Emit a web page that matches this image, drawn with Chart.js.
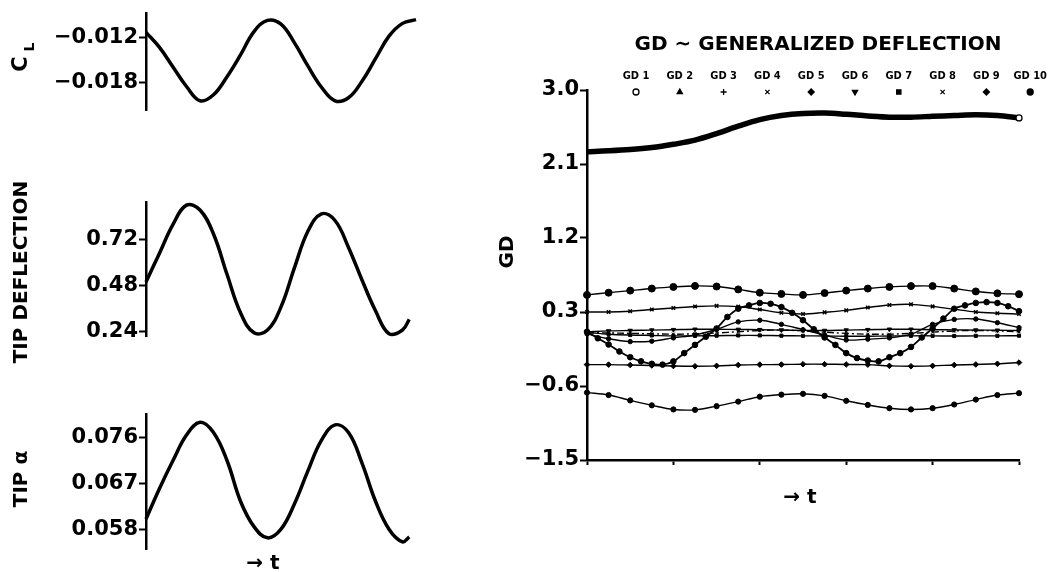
<!DOCTYPE html>
<html>
<head>
<meta charset="utf-8">
<title>GD ~ Generalized deflection</title>
<script src="https://cdn.jsdelivr.net/npm/chart.js@4.4.1/dist/chart.umd.min.js"></script>
<style>
  html, body { margin: 0; padding: 0; background: #fff; }
  #wrap { position: relative; width: 1055px; height: 572px; overflow: hidden; }
  canvas { position: absolute; }
</style>
</head>
<body>
<div id="wrap">
  <canvas id="clChart" width="440" height="125" style="left:0;top:0"></canvas>
  <canvas id="tipChart" width="440" height="210" style="left:0;top:170px"></canvas>
  <canvas id="alphaChart" width="440" height="172" style="left:0;top:400px"></canvas>
  <canvas id="gdChart" width="565" height="572" style="left:490px;top:0"></canvas>
</div>
<script>
// Time (no labels on the plots, arbitrary units)
const tLeft = [0, 1, 2, 3, 4, 5, 6, 7, 8, 9, 10, 11, 12, 13, 14, 15, 16, 17, 18, 19, 20];
const tLeftShort = [0, 1, 2, 3, 4, 5, 6, 7, 8, 9, 10, 11, 12, 13, 14, 15, 16, 17, 18, 19, 19.5];

// Left column
const clValues = [-0.0113, -0.0133, -0.0159, -0.0185, -0.0204, -0.0196, -0.0172, -0.0143, -0.0112, -0.0097, -0.0102,
                  -0.0127, -0.0158, -0.0186, -0.0204, -0.0200, -0.0178, -0.0148, -0.0118, -0.0101, -0.0096];
const tipDeflection = [0.50, 0.65, 0.80, 0.90, 0.875, 0.75, 0.54, 0.34, 0.235, 0.25, 0.37,
                       0.575, 0.765, 0.855, 0.82, 0.68, 0.51, 0.35, 0.23, 0.25, 0.305];
const tipAlpha = [0.060, 0.066, 0.0715, 0.0765, 0.079, 0.0770, 0.0715, 0.0635, 0.0585, 0.0563, 0.058,
                  0.063, 0.0695, 0.0755, 0.0785, 0.0770, 0.0710, 0.0635, 0.058, 0.0555, 0.0565];

const clTicks = [-0.018, -0.012];
const tipDeflTicks = [0.24, 0.48, 0.72];
const tipAlphaTicks = [0.058, 0.067, 0.076];

// Right chart: generalized deflections
const tGD = [0, 1, 2, 3, 4, 5, 6, 7, 8, 9, 10, 11, 12, 13, 14, 15, 16, 17, 18, 19, 20];
const tGDDense = [0, 0.5, 1, 1.5, 2, 2.5, 3, 3.5, 4, 4.5, 5, 5.5, 6, 6.5, 7, 7.5, 8, 8.5, 9, 9.5, 10,
                  10.5, 11, 11.5, 12, 12.5, 13, 13.5, 14, 14.5, 15, 15.5, 16, 16.5, 17, 17.5, 18, 18.5, 19, 19.5, 20];
const gdLabels = ["GD 1", "GD 2", "GD 3", "GD 4", "GD 5", "GD 6", "GD 7", "GD 8", "GD 9", "GD 10"];

const gd1 = [2.25, 2.26, 2.275, 2.30, 2.34, 2.39, 2.47, 2.56, 2.64, 2.69, 2.715,
             2.72, 2.705, 2.685, 2.67, 2.67, 2.68, 2.69, 2.70, 2.69, 2.66];
const gd2 = [0.508, 0.535, 0.56, 0.585, 0.605, 0.617, 0.61, 0.575, 0.535, 0.52, 0.508,
             0.53, 0.56, 0.585, 0.605, 0.615, 0.615, 0.585, 0.55, 0.527, 0.517];
const gd3 = [0.30, 0.30, 0.31, 0.33, 0.348, 0.366, 0.375, 0.365, 0.33, 0.29, 0.276,
             0.296, 0.32, 0.355, 0.385, 0.393, 0.368, 0.333, 0.30, 0.285, 0.276];
const gd4 = [0.035, -0.025, -0.06, -0.055, -0.015, 0.02, 0.09, 0.18, 0.20, 0.15, 0.085,
             0.02, -0.04, -0.03, -0.015, 0.03, 0.15, 0.21, 0.215, 0.17, 0.11];
const gd5 = [0.06, -0.02, -0.095, -0.18, -0.25, -0.30, -0.33, -0.34, -0.30, -0.20, -0.10,
             0.0, 0.10, 0.24, 0.34, 0.38, 0.41, 0.40, 0.36, 0.29, 0.20,
             0.09, -0.01, -0.10, -0.20, -0.26, -0.29, -0.30, -0.25, -0.20, -0.125,
             -0.01, 0.10, 0.22, 0.34, 0.38, 0.41, 0.42, 0.41, 0.37, 0.31];
const gd6 = [0.06, 0.07, 0.075, 0.08, 0.085, 0.09, 0.09, 0.088, 0.085, 0.08, 0.077,
             0.075, 0.08, 0.085, 0.09, 0.09, 0.085, 0.082, 0.08, 0.078, 0.075];
const gd7 = [0.05, 0.03, 0.02, 0.015, 0.01, 0.01, 0.012, 0.015, 0.015, 0.012, 0.01,
             0.008, 0.005, 0.005, 0.008, 0.01, 0.01, 0.008, 0.01, 0.01, 0.012];
const gd8 = [0.05, 0.045, 0.04, 0.035, 0.03, 0.035, 0.045, 0.06, 0.075, 0.08, 0.07,
             0.055, 0.04, 0.03, 0.03, 0.04, 0.055, 0.07, 0.075, 0.07, 0.06];
const gd9 = [-0.34, -0.34, -0.345, -0.35, -0.357, -0.36, -0.355, -0.345, -0.34, -0.339, -0.335,
             -0.335, -0.338, -0.34, -0.355, -0.36, -0.355, -0.345, -0.338, -0.33, -0.315];
const gd10 = [-0.68, -0.71, -0.775, -0.835, -0.885, -0.89, -0.845, -0.79, -0.73, -0.705, -0.695,
              -0.72, -0.78, -0.83, -0.87, -0.885, -0.87, -0.825, -0.765, -0.71, -0.687];

const gdTicks = [-1.5, -0.6, 0.3, 1.2, 2.1, 3.0];
const gdTimeTicks = [0, 4, 8, 12, 16, 20];

const TICK_FONT = { family: "DejaVu Sans", weight: "bold", size: 21 };
const TITLE_FONT = "bold 20px 'DejaVu Sans'";

Chart.defaults.font.family = "DejaVu Sans";
Chart.defaults.color = "#000";

// (t, value) pairs for the linear x axis
function pairs(ts, vals) {
  return vals.map((v, i) => ({ x: ts[i], y: v }));
}

function fmtTick(v, digits) {
  return v.toFixed(digits).replace("-", "\u2212");
}

// Free text (axis titles, headings) drawn on the canvas
const textPlugin = {
  id: "texts",
  afterDraw(chart, args, opts) {
    const ctx = chart.ctx;
    (opts.items || []).forEach(item => {
      ctx.save();
      ctx.translate(item.x, item.y);
      if (item.rotate) ctx.rotate(item.rotate * Math.PI / 180);
      ctx.font = item.font || TITLE_FONT;
      ctx.fillStyle = "#000";
      ctx.textAlign = item.align || "center";
      ctx.textBaseline = "middle";
      ctx.fillText(item.text, 0, 0);
      ctx.restore();
    });
  }
};

// Legend: label above, marker below, all in one row
const markerLegend = {
  id: "markerLegend",
  afterDraw(chart, args, opts) {
    const ctx = chart.ctx;
    chart.data.datasets.forEach((ds, i) => {
      const x = opts.x0 + i * opts.step;
      ctx.save();
      ctx.font = opts.font;
      ctx.fillStyle = "#000";
      ctx.textAlign = "center";
      ctx.textBaseline = "middle";
      ctx.fillText(ds.label, x, opts.labelY);
      ctx.fillStyle = ds.legendFill || "#000";
      ctx.strokeStyle = "#000";
      ctx.lineWidth = 1.3;
      Chart.helpers.drawPoint(ctx, {
        pointStyle: ds.legendStyle,
        rotation: ds.legendRotation || 0,
        radius: 3,
        borderWidth: 1.3
      }, x, opts.markerY);
      ctx.restore();
    });
  }
};

function yAxis(min, max, ticks, digits, width) {
  return {
    min: min,
    max: max,
    afterFit: s => { s.width = width; },
    afterBuildTicks: s => { s.ticks = ticks.map(v => ({ value: v })); },
    border: { display: true, color: "#000", width: 2.5 },
    grid: { display: true, drawOnChartArea: false, drawTicks: true, tickLength: 7, tickWidth: 2, color: "#000" },
    ticks: { color: "#000", font: TICK_FONT, padding: 1, autoSkip: false, callback: v => fmtTick(v, digits) }
  };
}

// Left column: one small chart per quantity
function initLeftChart(id, ts, values, yMin, yMax, ticks, digits, pad, texts) {
  const ctx = document.getElementById(id).getContext("2d");
  return new Chart(ctx, {
    type: "line",
    data: {
      datasets: [{
        data: pairs(ts, values),
        borderColor: "#000",
        borderWidth: 3.5,
        pointRadius: 0,
        tension: 0.4,
        clip: false
      }]
    },
    options: {
      responsive: false,
      animation: false,
      devicePixelRatio: 1,
      layout: { padding: { left: 0, right: 24, top: pad.top, bottom: pad.bottom } },
      scales: {
        x: { type: "linear", display: false, min: 0, max: 20 },
        y: yAxis(yMin, yMax, ticks, digits, 146)
      },
      plugins: {
        legend: { display: false },
        tooltip: { enabled: false },
        texts: { items: texts }
      }
    },
    plugins: [textPlugin]
  });
}

function initGDChart() {
  const ctx = document.getElementById("gdChart").getContext("2d");
  const thin = { borderColor: "#000", backgroundColor: "#000", pointBorderColor: "#000", pointBackgroundColor: "#000",
                 borderWidth: 1.4, pointBorderWidth: 1, tension: 0.35, clip: false };
  const lastOnly = c => (c.dataIndex === gd1.length - 1 ? 3 : 0);
  const series = [
    { data: pairs(tGD, gd1), pointStyle: "circle", legendStyle: "circle", legendFill: "#fff", borderWidth: 5.5,
      pointRadius: lastOnly, pointBackgroundColor: "#fff", pointBorderWidth: 1.3 },
    { data: pairs(tGD, gd2), pointStyle: "circle", legendStyle: "triangle", pointRadius: 3.5 },
    { data: pairs(tGD, gd3), pointStyle: "crossRot", legendStyle: "cross", pointRadius: 2.5, pointBorderWidth: 1.5 },
    { data: pairs(tGD, gd4), pointStyle: "circle", legendStyle: "crossRot", pointRadius: 2.2 },
    { data: pairs(tGDDense, gd5), pointStyle: "circle", legendStyle: "rectRot", pointRadius: 2.8, borderWidth: 1.8 },
    { data: pairs(tGD, gd6), pointStyle: "triangle", pointRotation: 180, legendStyle: "triangle", legendRotation: 180, pointRadius: 2.5 },
    { data: pairs(tGD, gd7), pointStyle: "rect", legendStyle: "rect", pointRadius: 2.2 },
    { data: pairs(tGD, gd8), pointStyle: "crossRot", legendStyle: "crossRot", pointRadius: 2.2, borderDash: [7, 3, 2, 3] },
    { data: pairs(tGD, gd9), pointStyle: "rectRot", legendStyle: "rectRot", pointRadius: 2.8 },
    { data: pairs(tGD, gd10), pointStyle: "circle", legendStyle: "circle", pointRadius: 2.6 }
  ];

  return new Chart(ctx, {
    type: "line",
    data: {
      datasets: series.map((s, i) => Object.assign({}, thin, s, { label: gdLabels[i] }))
    },
    options: {
      responsive: false,
      animation: false,
      devicePixelRatio: 1,
      layout: { padding: { left: 0, right: 36, top: 90, bottom: 104 } },
      scales: {
        x: {
          type: "linear",
          min: 0,
          max: 20,
          afterFit: s => { s.height = 8; },
          afterBuildTicks: s => { s.ticks = gdTimeTicks.map(v => ({ value: v })); },
          border: { display: true, color: "#000", width: 2.5 },
          grid: { display: true, drawOnChartArea: false, drawTicks: true, tickLength: 5, tickWidth: 2, color: "#000" },
          ticks: { display: false }
        },
        y: yAxis(-1.5, 3.0, gdTicks, 1, 97)
      },
      plugins: {
        legend: { display: false },
        tooltip: { enabled: false },
        markerLegend: {
          x0: 146, step: 43.8, labelY: 76, markerY: 92,
          font: "bold 11px 'Liberation Sans Narrow', 'DejaVu Sans Condensed', sans-serif"
        },
        texts: {
          items: [
            { text: "GD \u223C GENERALIZED DEFLECTION", x: 328, y: 45 },
            { text: "GD", x: 18, y: 252, rotate: -90 },
            { text: "\u2192 t", x: 310, y: 498 }
          ]
        }
      }
    },
    plugins: [textPlugin, markerLegend]
  });
}

// Initialise all charts
let clChart, tipChart, alphaChart, gdChart;

clChart = initLeftChart("clChart", tLeft, clValues, -0.02163, -0.0088, clTicks, 3,
  { top: 5, bottom: 15 },
  [
    { text: "C", x: 22, y: 64, rotate: -90, font: "bold 21px 'DejaVu Sans'" },
    { text: "L", x: 30, y: 47, rotate: -90, font: "bold 14px 'DejaVu Sans'" }
  ]);

tipChart = initLeftChart("tipChart", tLeftShort, tipDeflection, 0.2185, 0.9165, tipDeflTicks, 2,
  { top: 32, bottom: 44 },
  [{ text: "TIP DEFLECTION", x: 22, y: 102, rotate: -90 }]);

alphaChart = initLeftChart("alphaChart", tLeftShort, tipAlpha, 0.05411, 0.08064, tipAlphaTicks, 3,
  { top: 14, bottom: 23 },
  [
    { text: "TIP \u03B1", x: 22, y: 79, rotate: -90 },
    { text: "\u2192 t", x: 263, y: 164 }
  ]);

gdChart = initGDChart();
</script>
</body>
</html>
